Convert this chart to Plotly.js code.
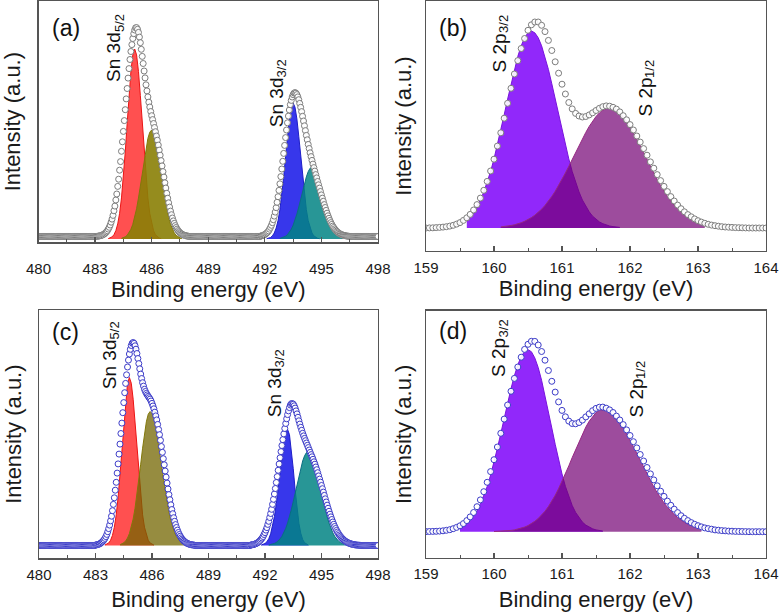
<!DOCTYPE html>
<html>
<head>
<meta charset="utf-8">
<script src="https://cdn.plot.ly/plotly-3.0.1.min.js"></script>
<style>html,body{margin:0;padding:0;background:#fff;}#chart{width:780px;height:614px;}</style>
</head>
<body>
<div id="chart"></div>
<script>
// ---------- Panel (a): Sn 3d, sample 1 (0.05 eV step, 480 to 498) ----------
const aStart = 480, aStep = 0.05;
const aData = [
 2.5,2.5,2.5,2.5,2.5,2.5,2.5,2.5,2.5,2.5, 2.5,2.5,2.5,2.5,2.5,2.5,2.5,2.5,2.5,2.5,
 2.5,2.5,2.5,2.5,2.5,2.5,2.5,2.5,2.5,2.5, 2.5,2.5,2.5,2.5,2.5,2.5,2.5,2.5,2.5,2.5,
 2.5,2.5,2.5,2.5,2.5,2.5,2.5,2.5,2.5,2.5, 2.5,2.5,2.5,2.5,2.5,2.5,2.5,2.5,2.5,2.5,
 2.5,2.6,2.7,2.8,3.0,3.2,3.4,3.7,4.1,4.6,
 5.2,6.1,7.1,8.3,9.9,11.7,14,16.8,19.9,23.6,
 28.2,32.9,39,45,52.6,59.8,68.8,77.4,87.7,97.2,
 107.6,118.4,129.3,140.1,150.5,160.9,170.4,179.5,187.5,194.4,
 200.5,205.3,209,211.2,211.4,209.7,206.6,201.9,196.3,189.7,
 182.6,175.5,168,161.1,154.2,148.1,142.1,136.8,132,127.5,
 123.3,119.4,115.5,111.5,107.3,103,98.8,93.9,88.9,83.8,
 78.4,73.1,67.4,61.9,56.2,51,45.7,40.8,36.2,31.9,
 27.9,24.3,21,18.1,15.6,13.4,11.5,9.9,8.4,7.3,
 6.3,5.5,4.9,4.3,3.9,3.6,3.3,3.1,2.9,2.8,
 2.5,2.5,2.5,2.5,2.5,2.5,2.5,2.5,2.5,2.5, 2.5,2.5,2.5,2.5,2.5,2.5,2.5,2.5,2.5,2.5,
 2.5,2.5,2.5,2.5,2.5,2.5,2.5,2.5,2.5,2.5, 2.5,2.5,2.5,2.5,2.5,2.5,2.5,2.5,2.5,2.5,
 2.5,2.5,2.5,2.5,2.5,2.5,2.5,2.5,2.5,2.5, 2.5,2.5,2.5,2.5,2.5,2.5,2.5,2.5,2.5,2.5,
 2.5,2.5,2.5,2.5,2.5,2.5,2.5,2.5,2.5,2.5, 2.5,2.5,2.5,2.5,2.5,2.5,
 3.1,3.3,3.7,4.0,4.5,5.2,6.0,6.9,8.1,9.8,
 11.6,13.7,16.3,19.3,22.9,26.9,31.3,36.7,42.3,48.6,
 55.2,62.4,70,77.7,85.6,93.6,101.4,109,116.2,122.9,
 129,134.3,138.6,142,144.4,145.9,146.4,145.8,144.4,142.1,
 139.3,135.6,131.7,127.4,122.7,118,113.2,108.4,103.6,99.2,
 94.6,90.5,86.2,82.4,78.6,74.9,71.4,67.9,64.4,61.1,
 57.5,54.2,50.9,47.5,44.1,40.8,37.7,34.4,31.5,28.6,
 25.8,23.2,20.7,18.5,16.4,14.6,12.9,11.5,10.1,8.9,
 7.8,7.0,6.2,5.5,5.0,4.5,4.2,3.8,3.6,3.3,
 3.1,3.0,2.85,2.8,
 2.5,2.5,2.5,2.5,2.5,2.5,2.5,2.5,2.5,2.5, 2.5,2.5,2.5,2.5,2.5,2.5,2.5,2.5,2.5,2.5,
 2.5,2.5,2.5,2.5,2.5,2.5,2.5,2.5,2.5,2.5, 2.5
];
const aRedStart = 483.7;
const aRed = [0.4,1,2.1,4.3,8.3,15.1,25.7,41.1,61.7,87,115.3,143.4,167.6,184.1,190,184.1,167.6,143.4,115.3,87,61.7,41.1,25.7,15.1,8.3,4.3,2.1,1,0.4];
const aOliveStart = 484.4;
const aOlive = [0.7,1.2,2.2,3.7,6.1,9.7,14.7,21.6,30.3,40.9,53.1,66.2,79.1,91,100.6,106.8,109,106.8,100.6,91,79.1,66.2,53.1,40.9,30.3,21.6,14.7,9.7,6.1,3.7,2.2,1.2,0.7];
const aBlueStart = 492.1;
const aBlue = [0.3,0.7,1.5,3.1,6,10.9,18.4,29.4,44.2,62.3,82.6,102.7,120,131.8,136,131.8,120,102.7,82.6,62.3,44.2,29.4,18.4,10.9,6,3.1,1.5,0.7,0.3];
const aTealStart = 492.8;
const aTeal = [0.6,1.1,1.8,2.8,4.4,6.7,9.7,13.8,18.9,25,32,39.7,47.7,55.2,62.1,67.4,70.8,72,70.8,67.4,62.1,55.2,47.7,39.7,32,25,18.9,13.8,9.7,6.7,4.4,2.8,1.8,1.1,0.6];

// ---------- Panel (c): Sn 3d, sample 2 (0.05 eV step) ----------
const cStart = 480, cStep = 0.05;
const cData = [
 0,0,0,0,0,0,0,0,0,0, 0,0,0,0,0,0,0,0,0,0, 0,0,0,0,0,0,0,0,0,0,
 0,0,0,0,0,0,0,0,0,0, 0,0,0,0,0,0,0,0,0,0, 0,0,0,0,0,0,0,0,0,0,
 0.5,0.6,0.9,1.1,1.5,2,2.7,3.5,4.5,5.6,
 7.1,8.9,11.1,13.8,16.9,20.4,24.6,29.3,34.8,41.1,
 47.7,55.3,63.2,72.4,81.6,91.4,101.4,112,122.4,132.8,
 142.9,152.8,162.1,170.7,178.5,185.4,191.5,196.2,200,202.3,
 203,202.1,199.7,196.3,192,187,181.9,176.7,171.4,167,
 162.8,159.4,156.2,154,152.1,150.6,149.1,147.8,146.4,144.5,
 142.1,139.5,136.7,133.3,129.6,125.6,121.1,116,110.8,105.2,
 99,93.2,86.8,80.7,74.5,68.4,62.4,56.5,50.9,45.8,
 40.7,36,31.8,27.8,24.2,20.9,18,15.4,13,11,
 9.3,7.7,6.4,5.3,4.4,3.6,2.9,2.3,1.9,1.5,
 1.2,0.9,0.7,0.6,0.5,0.3,
 0,0,0,0,0,0,0,0,0,0, 0,0,0,0,0,0,0,0,0,0, 0,0,0,0,0,0,0,0,0,0,
 0,0,0,0,0,0,0,0,0,0, 0,0,0,0,0,0,0,0,0,0, 0,0,0,0,0,0,0,0,0,
 0.5,0.7,0.8,1,1.4,1.7,2.2,2.7,3.4,4.2,
 5.1,6.3,7.5,9,11,12.9,15.4,17.9,21.1,24.2,
 28,32,36.2,41.1,46.2,51.5,57,63,68.9,75.2,
 81.5,87.7,93.9,100,105.9,111.6,117,122,126.7,130.9,
 134.6,137.9,140.5,141.8,141.9,141.3,139.7,137.4,134.6,131.6,
 128.2,124.7,121.4,118.2,115.2,112.2,109.6,107.1,104.8,102.5,
 100.2,97.9,95.5,93.1,90.9,88.7,86.2,83.7,81.3,78.5,
 75.8,72.8,69.6,66.4,63.3,60,56.8,53.4,50.1,46.7,
 43.5,40.3,37.2,34.2,31.3,28.6,26,23.5,21.2,19,
 17,15.1,13.5,11.9,10.5,9.2,8,7,6.1,5.3,
 4.5,3.9,3.3,2.8,2.4,2,1.7,1.4,1.2,1,
 0.8,0.6,0.5,0.4,0.35,0.3,0.2,
 0,0,0,0,0,0,0,0,0,0, 0,0,0,0,0,0,0,0,0
];
const cRedStart = 483.5;
const cRed = [0.5,1.2,2.5,5.2,10.1,18.3,30.7,48.2,70.7,96.6,123,146.3,162.3,168,162.3,146.3,123,96.6,70.7,48.2,30.7,18.3,10.1,5.2,2.5,1.2,0.5];
const cOliveStart = 484.3;
const cOlive = [0.8,1.5,2.7,4.6,7.5,11.9,18.1,26.5,37.3,50.3,65.3,81.3,97.3,111.9,123.7,131.3,134,132.1,126.8,118.2,107.3,94.7,81.3,67.8,55.1,43.6,33.4,24.9,18.1,12.9,8.8,5.9,3.9,2.4,1.5,0.8];
const cBlueStart = 491.8;
const cBlue = [0.5,0.9,2,3.7,6.8,11.7,18.9,28.9,41.8,57.2,73.7,89.9,103.6,112.8,116,110.8,96.5,76.8,55.7,36.8,22.2,12.3,6.1,2.8,1.2,0.5];
const cTealStart = 492.2;
const cTeal = [0.5,0.8,1.3,2.1,3.1,4.5,6.6,9.2,12.7,17.1,22.5,28.8,36,44.1,52.6,61.4,69.9,77.8,84.5,89.7,92.9,94,92.9,89.7,84.5,77.8,69.9,61.4,52.6,44.1,36,28.8,22.5,17.1,12.7,9.2,6.6,4.5,3.1,2.1,1.3,0.8,0.5];

// ---------- Panel (b): S 2p, sample 1 (0.05 eV step, 159 to 164) ----------
const bStart = 159, bStep = 0.05;
const bData = [
 0,0.1,0.2,0.4,0.6,0.9,1.3,1.9,2.7,3.9, 5.4,7.6,10.2,13.6,18,23.4,29.9,37.7,46.6,57,
 68.8,81.9,95.2,109.8,124.7,139.7,154,167.4,179.5,189.5, 197.7,203.2,206,206,202.7,196.4,187.6,177.5,166.2,154.8,
 143.8,134,125.5,119.1,114.6,112,111,111.5,113.1,115.2, 117.5,119.7,121.3,122.1,121.8,120.7,118.9,116.1,112.3,108.2,
 103.4,98,92,85.9,79.4,72.8,66.1,59.8,53.4,47.4, 41.6,36.4,31.4,27,22.9,19.3,16.2,13.4,11.2,9.1,
 7.3,5.9,4.7,3.7,2.9,2.3,1.8,1.3,1,0.8, 0.6,0.4,0.3,0.2,0.1,0,0,0,0,0,0
];
const bVioletStart = 159.6;
const bViolet = [8.7,11.8,16.2,21.5,28,36.1,45.7,56.5,69.1,82.9,97.7,113.3,128.8,144.2,158.6,171.6,182.2,190.3,195.2,197,195.2,190.3,182.2,171.6,158.6,144.2,128.8,113.3,97.7,82.9,69.1,56.5,45.7,36.1,28,21.5,16.2,11.8,8.7,6.1,4.3,3,2,1.4,0.9,0.6];
const bMagentaStart = 160.1;
const bMagenta = [1.1,1.4,1.9,2.5,3.2,4.1,5.3,6.7,8.4,10.4,12.8,15.6,18.8,22.6,26.8,31.6,36.7,42.5,48.5,55,61.7,68.6,75.6,82.6,89.3,95.6,101.6,106.9,111.5,115.1,117.8,119.4,120,119.4,117.8,115.1,111.5,106.9,101.6,95.6,89.3,82.6,75.6,68.6,61.7,55,48.5,42.5,36.7,31.6,26.8,22.6,18.8,15.6,12.8,10.4,8.4,6.7,5.3,4.1,3.2];

// ---------- Panel (d): S 2p, sample 2 ----------
const dStart = 159, dStep = 0.05;
const dData = [
 0.1,0.2,0.3,0.4,0.6,0.9,1.4,2,3,4.3, 5.9,8.1,11.1,14.8,19.2,25,31.8,40,49.4,60.1,
 72,84.7,98.4,112.6,126.7,140.4,153.3,164.7,174.5,182.3, 187.4,190.4,190.3,186.7,180.2,171.5,161.2,150.4,139.6,129.8,
 121.3,114.9,110.6,108.2,107.9,109.2,111.6,114.8,117.9,121, 123.3,124.5,124.6,123.5,121.8,119.2,115.6,111.7,107.1,101.8,
 96.2,90,83.8,77.2,70.7,64.2,57.8,51.8,45.9,40.5, 35.3,30.6,26.4,22.5,19.1,16,13.4,11.1,9.1,7.4,
 6,4.8,3.8,3.1,2.5,1.8,1.5,1.1,0.9,0.6, 0.5,0.3,0.25,0.2,0.1,0,0,0,0,0,0
];
const dVioletStart = 159.5;
const dViolet = [3.8,5.6,8,11.3,15.5,20.7,27.5,35.7,45.3,56.6,69.3,83.4,98.3,113.6,128.7,143.1,156,166.9,175.1,180.2,182,180,173.8,164.2,151.4,136.5,120.5,103.7,87.4,71.9,57.7,45.3,34.8,26.2,19.3,13.8,9.6,6.6,4.5,2.9,1.8,1.2,0.7];
const dMagentaStart = 160.0;
const dMagenta = [0.2,0.3,0.5,0.7,1,1.3,1.8,2.6,3.5,4.6,6.1,8.1,10.4,13.2,16.5,20.5,25.1,30.4,36.4,43.1,50.1,57.8,65.8,74.1,82.2,90.2,97.7,104.6,110.5,115.4,119.1,121.3,122,121.5,119.8,117.2,113.6,109.2,103.9,98.1,91.7,85,78.2,71.2,64.3,57.6,51,44.8,39,33.7,28.8,24.5,20.6,17.2,14.2,11.6,9.4,7.6,6,4.8,3.7,2.9];

// ---------- Text ----------
const panelLabels = ['(a)', '(b)', '(c)', '(d)'];
const snMain = 'Sn 3d', snSubs = ['5/2', '3/2'];
const sMain = 'S 2p', sSubs = ['3/2', '1/2'];
const xTitle = 'Binding energy (eV)';
const yTitle = 'Intensity (a.u.)';

// ---------- helpers ----------
function grid(start, step, n) {
  const out = [];
  for (let i = 0; i < n; i++) out.push(Math.round((start + i * step) * 1000) / 1000);
  return out;
}
function fillTrace(start, step, ys, fillcolor, linecolor, xa, ya) {
  return {type: 'scatter', mode: 'lines', x: grid(start, step, ys.length), y: ys,
    fill: 'tozeroy', fillcolor: fillcolor, line: {color: linecolor, width: 1},
    xaxis: xa, yaxis: ya, hoverinfo: 'skip'};
}
function dataTrace(start, step, ys, edge, xa, ya) {
  return {type: 'scatter', mode: 'markers', x: grid(start, step, ys.length), y: ys,
    marker: {symbol: 'circle', size: 6, color: 'rgba(255,255,255,0.9)', line: {color: edge, width: 1}},
    xaxis: xa, yaxis: ya};
}

const RED = 'rgb(255,80,80)', REDL = 'rgb(235,20,20)';
const OLIVE_A = 'rgba(138,127,5,0.9)', OLIVE_C = 'rgba(115,102,0,0.75)', OLIVEL = 'rgb(130,120,10)';
const BLUE = 'rgb(55,55,235)', BLUEL = 'rgb(30,30,200)';
const TEAL = 'rgba(2,132,132,0.85)', TEALL = 'rgb(10,110,130)';
const VIOLET = 'rgb(145,40,250)', VIOLETL = 'rgb(120,20,220)';
const MAG = 'rgba(115,0,115,0.7)', MAGL = 'rgb(150,40,130)';
const GRAYC = 'rgb(125,125,125)', BLUEC = 'rgb(60,60,200)';

const traces = [
  fillTrace(aRedStart, 0.1, aRed, RED, REDL, 'x', 'y'),
  fillTrace(aOliveStart, 0.1, aOlive, OLIVE_A, OLIVEL, 'x', 'y'),
  fillTrace(aBlueStart, 0.1, aBlue, BLUE, BLUEL, 'x', 'y'),
  fillTrace(aTealStart, 0.1, aTeal, TEAL, TEALL, 'x', 'y'),
  dataTrace(aStart, aStep, aData, GRAYC, 'x', 'y'),

  fillTrace(bVioletStart, 0.05, bViolet, VIOLET, VIOLETL, 'x2', 'y2'),
  fillTrace(bMagentaStart, 0.05, bMagenta, MAG, MAGL, 'x2', 'y2'),
  dataTrace(bStart, bStep, bData, GRAYC, 'x2', 'y2'),

  fillTrace(cRedStart, 0.1, cRed, RED, REDL, 'x3', 'y3'),
  fillTrace(cOliveStart, 0.1, cOlive, OLIVE_C, OLIVEL, 'x3', 'y3'),
  fillTrace(cBlueStart, 0.1, cBlue, BLUE, BLUEL, 'x3', 'y3'),
  fillTrace(cTealStart, 0.1, cTeal, TEAL, TEALL, 'x3', 'y3'),
  dataTrace(cStart, cStep, cData, BLUEC, 'x3', 'y3'),

  fillTrace(dVioletStart, 0.05, dViolet, VIOLET, VIOLETL, 'x4', 'y4'),
  fillTrace(dMagentaStart, 0.05, dMagenta, MAG, MAGL, 'x4', 'y4'),
  dataTrace(dStart, dStep, dData, BLUEC, 'x4', 'y4')
];

const FONT = 'Liberation Sans, Arial, sans-serif';
const AX = 'rgb(85,85,85)';
function xaxis(domain, range, dtick, minorDtick, anchor, standoffLab, standoffTitle) {
  return {domain: domain, range: range, anchor: anchor, dtick: dtick, tick0: range[0],
    showline: true, linecolor: AX, linewidth: 1.3, mirror: true,
    ticks: 'inside', ticklen: 5, tickwidth: 1.2, tickcolor: AX,
    minor: {dtick: minorDtick, ticks: 'inside', ticklen: 3, tickwidth: 1, tickcolor: AX},
    showgrid: false, zeroline: false, ticklabelstandoff: standoffLab,
    tickfont: {family: FONT, size: 15, color: '#1a1a1a'},
    title: {text: xTitle, font: {family: FONT, size: 22, color: '#1a1a1a'}, standoff: standoffTitle},
    automargin: false, fixedrange: true};
}
function yaxis(domain, range, anchor, standoff) {
  return {domain: domain, range: range, anchor: anchor,
    showline: true, linecolor: AX, linewidth: 1.3, mirror: true,
    ticks: '', showticklabels: false, showgrid: false, zeroline: false,
    title: {text: yTitle, font: {family: FONT, size: 22, color: '#1a1a1a'}, standoff: standoff},
    automargin: false, fixedrange: true};
}

const W = 780, H = 614;
const px = v => v / W, py = v => 1 - v / H;

function ann(text, x, y, size, angle) {
  return {text: text, x: px(x), y: py(y), xref: 'paper', yref: 'paper', showarrow: false,
    xanchor: 'center', yanchor: 'middle', textangle: angle || 0,
    font: {family: FONT, size: size, color: '#111'}};
}
// rotated peak label: main part + smaller subscript part placed above it
function peak(main, sub, x, yBottom, mainLen) {
  const yMain = yBottom - mainLen / 2;
  const ySub = yBottom - mainLen - 9;
  return [ann(main, x, yMain, 19, -90), ann(sub, x + 5, ySub, 13, -90)];
}

const layout = {
  width: W, height: H, margin: {l: 0, r: 0, t: 0, b: 0},
  paper_bgcolor: '#fff', plot_bgcolor: '#fff', showlegend: false,
  font: {family: FONT},
  xaxis:  xaxis([px(38.5), px(378)], [480, 498], 3, 1.5, 'y', 12, 4),
  yaxis:  yaxis([py(242.3), py(1)], [-3.3, 238], 'x', 10),
  xaxis2: xaxis([px(426), px(766)], [159, 164], 1, 0.5, 'y2', 3, 4),
  yaxis2: yaxis([py(251), py(1)], [-23, 227], 'x2', 7),
  xaxis3: xaxis([px(39), px(378)], [480, 498], 3, 1.5, 'y3', 2, 10),
  yaxis3: yaxis([py(558.3), py(310)], [-12.8, 235.5], 'x3', 10),
  xaxis4: xaxis([px(426), px(766)], [159, 164], 1, 0.5, 'y4', 2, 10),
  yaxis4: yaxis([py(558), py(310.7)], [-26.3, 221], 'x4', 7),
  annotations: [
    ann(panelLabels[0], 66, 28, 23), ann(panelLabels[1], 453, 28, 23),
    ann(panelLabels[2], 65, 332, 23), ann(panelLabels[3], 453, 331, 23),
    ...peak(snMain, snSubs[0], 114, 81.7, 49.6),
    ...peak(snMain, snSubs[1], 276, 127, 49.6),
    ...peak(sMain, sSubs[0], 499, 72, 39.1),
    ...peak(sMain, sSubs[1], 645, 117, 39.1),
    ...peak(snMain, snSubs[0], 109, 389, 49.6),
    ...peak(snMain, snSubs[1], 274, 417, 49.6),
    ...peak(sMain, sSubs[0], 498.5, 377, 39.1),
    ...peak(sMain, sSubs[1], 636, 418, 39.1)
  ]
};

Plotly.newPlot('chart', traces, layout, {staticPlot: true, displayModeBar: false});
</script>
</body>
</html>
